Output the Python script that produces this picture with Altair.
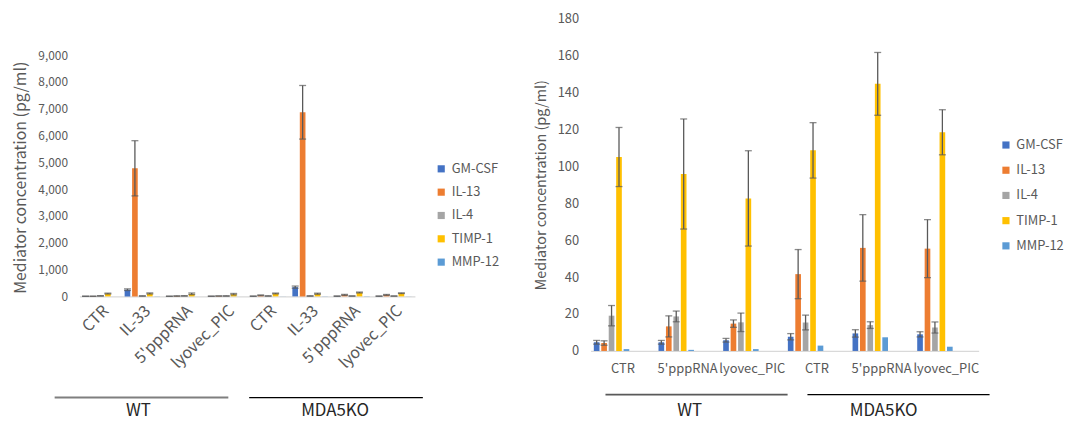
import altair as alt
import pandas as pd

mediators = ["GM-CSF", "IL-13", "IL-4", "TIMP-1", "MMP-12"]
mediator_colors = ["#4472C4", "#ED7D31", "#A5A5A5", "#FFC000", "#5B9BD5"]
groups = ["WT", "MDA5KO"]
conditions_all = ["CTR", "IL-33", "5'pppRNA", "lyovec_PIC"]
conditions_zoom = ["CTR", "5'pppRNA", "lyovec_PIC"]

# order: WT CTR, WT IL-33, WT 5'pppRNA, WT lyovec_PIC, MDA5KO CTR, MDA5KO IL-33, MDA5KO 5'pppRNA, MDA5KO lyovec_PIC
gmcsf_mean = [4.7, 250, 4.7, 5.8, 7.7, 345, 9.5, 9.0]
il13_mean = [4.3, 4780, 13.3, 14.8, 41.6, 6870, 55.8, 55.4]
il4_mean = [19.1, 15, 18.7, 15.5, 15.4, 15, 14.0, 12.7]
timp1_mean = [105, 110, 95.8, 82.6, 108.6, 100, 144.6, 118.4]
mmp12_mean = [1.0, 5, 0.6, 1.0, 2.9, 5, 7.4, 2.3]

gmcsf_err = [1.0, 30, 1.0, 1.0, 1.7, 40, 2.0, 1.4]
il13_err = [1.2, 1030, 5.7, 2.0, 13.3, 1000, 18.0, 15.7]
il4_err = [5.5, 5, 2.9, 5.0, 4.0, 5, 1.8, 3.0]
timp1_err = [16, 20, 29.8, 25.8, 15, 20, 17, 12.2]
mmp12_err = [0, 0, 0, 0, 0, 0, 0, 0]

means = {"GM-CSF": gmcsf_mean, "IL-13": il13_mean, "IL-4": il4_mean,
         "TIMP-1": timp1_mean, "MMP-12": mmp12_mean}
errs = {"GM-CSF": gmcsf_err, "IL-13": il13_err, "IL-4": il4_err,
        "TIMP-1": timp1_err, "MMP-12": mmp12_err}

FONT = "Noto Sans CJK JP"
GRAY = "#595959"


def build_df(conditions):
    rows = []
    for gi, g in enumerate(groups):
        for c in conditions:
            idx = gi * len(conditions_all) + conditions_all.index(c)
            for m in mediators:
                v = means[m][idx]
                e = errs[m][idx]
                rows.append(dict(key=f"{g}|{c}", group=g, condition=c, mediator=m,
                                 value=v, err=e, lo=max(v - e, 0), hi=v + e))
    return pd.DataFrame(rows)


def panel(conditions, width, height, ymax, yvals, yfmt, label_angle, xlab_size, xlab_pad,
          ylab_size, ytitle_size, title_y, pi, po, cap, legend_x, legend_y, row_pad,
          brackets, rule_y, text_y):
    df = build_df(conditions)
    keys = [f"{g}|{c}" for g in groups for c in conditions]
    xscale = alt.Scale(domain=keys, paddingInner=0, paddingOuter=0)
    xaxis = alt.Axis(labelExpr="split(datum.label, '|')[1]", labelAngle=label_angle,
                     labelFontSize=xlab_size, labelColor=GRAY, labelPadding=xlab_pad,
                     ticks=False, domainColor="#D9D9D9", domainWidth=1.2, title=None,
                     labelFont=FONT, grid=False)
    yaxis_kw = dict(values=yvals, format=yfmt, labelFontSize=ylab_size, labelColor=GRAY,
                    labelPadding=12, ticks=False, domain=False, grid=False,
                    title="Mediator concentration (pg/ml)", titleFontSize=ytitle_size,
                    titleColor=GRAY, titleFontWeight="normal", titlePadding=9,
                    labelFont=FONT, titleFont=FONT, labelOverlap=False)
    if title_y is not None:
        yaxis_kw["titleY"] = title_y
    yaxis = alt.Axis(**yaxis_kw)
    yscale = alt.Scale(domain=[0, ymax], nice=False, zero=True)
    x_enc = alt.X("key:N", scale=xscale, axis=xaxis, sort=keys)
    xo_enc = alt.XOffset("mediator:N", sort=mediators,
                         scale=alt.Scale(domain=mediators, paddingInner=pi, paddingOuter=po))

    base = alt.Chart(df)
    bars = base.mark_bar().encode(
        x=x_enc,
        xOffset=xo_enc,
        y=alt.Y("value:Q", scale=yscale, axis=yaxis),
        color=alt.Color("mediator:N", sort=mediators,
                        scale=alt.Scale(domain=mediators, range=mediator_colors),
                        legend=alt.Legend(title=None, orient="none", legendX=legend_x,
                                          legendY=legend_y, symbolType="square",
                                          symbolSize=52, symbolStrokeWidth=0,
                                          labelFontSize=13, labelColor=GRAY,
                                          labelFont=FONT, rowPadding=row_pad,
                                          labelOffset=4, padding=0)),
    )
    eb = base.transform_filter("datum.err > 0")
    err_rule = eb.mark_rule(color=GRAY, strokeWidth=1.3).encode(
        x=x_enc, xOffset=xo_enc, y=alt.Y("lo:Q", scale=yscale, axis=yaxis), y2="hi:Q")
    cap_hi = eb.mark_tick(color=GRAY, thickness=1.3, size=cap).encode(
        x=x_enc, xOffset=xo_enc, y=alt.Y("hi:Q", scale=yscale, axis=yaxis))
    cap_lo = eb.mark_tick(color=GRAY, thickness=1.3, size=cap).encode(
        x=x_enc, xOffset=xo_enc, y=alt.Y("lo:Q", scale=yscale, axis=yaxis))

    layers = [bars, err_rule, cap_hi, cap_lo]
    n = len(conditions)
    mid_idx = (n - 1) // 2
    mid_bp = n / 2 - mid_idx
    for g, s_off, e_off, t_dx, lcolor, lwidth in brackets:
        gkeys = [f"{g}|{c}" for c in conditions]
        bdf = pd.DataFrame([dict(start=gkeys[0], end=gkeys[-1], mid=gkeys[mid_idx], label=g)])
        bc = alt.Chart(bdf)
        rule = bc.mark_rule(color=lcolor, strokeWidth=lwidth, xOffset=s_off,
                            x2Offset=e_off).encode(
            x=alt.X("start:N", scale=xscale, bandPosition=0, axis=xaxis),
            x2=alt.X2("end:N", bandPosition=1),
            y=alt.value(rule_y),
        )
        txt = bc.mark_text(fontSize=17, color="#262626", font=FONT, dx=t_dx,
                           baseline="alphabetic", align="center").encode(
            x=alt.X("mid:N", scale=xscale, bandPosition=mid_bp, axis=xaxis),
            y=alt.value(text_y),
            text="label:N",
        )
        layers += [rule, txt]
    return alt.layer(*layers).properties(width=width, height=height)


left = panel(conditions_all, 338, 280, 9000 * 280 / 243, list(range(0, 9001, 1000)), ",d",
             -45, 16, 6, 12, 16, 160, 0.24, 0.435, 7, 358, 145, 9.5,
             [("WT", -25, -19, -25, "#7F7F7F", 2), ("MDA5KO", 2, 8, 4, "#000000", 1.3)],
             382, 401)
right = panel(conditions_zoom, 391, 335, 180, list(range(0, 181, 20)), "d",
              0, 13, 12, 13, 14.5, None, 0.15, 0.74, 7, 412, 121, 11.4,
              [("WT", 15, 3, 2, "#595959", 1.6), ("MDA5KO", 23, 11, 2, "#000000", 1.3)],
              379, 401)

chart = alt.hconcat(left, right, spacing=34).resolve_scale(
    color="independent").resolve_legend(color="independent").configure(
    font=FONT).configure_view(stroke=None, strokeWidth=0).configure_axisY(
    domain=False).properties(
    padding={"left": 5, "top": 3, "right": 0, "bottom": -1})

chart.save("out.html", embed_options={"renderer": "svg", "actions": False})
